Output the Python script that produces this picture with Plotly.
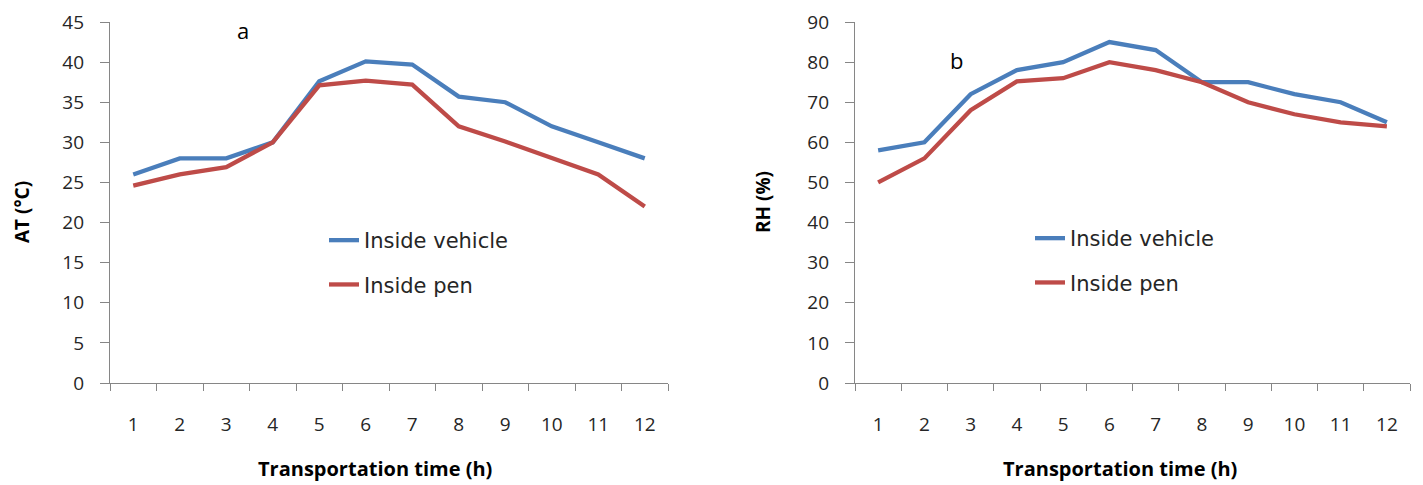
import plotly.graph_objects as go

hours = [str(h) for h in range(1, 13)]
at_vehicle = [26.0, 28.0, 28.0, 30.0, 37.6, 40.1, 39.7, 35.7, 35.0, 32.0, 30.0, 28.0]
at_pen = [24.6, 26.0, 26.9, 30.0, 37.1, 37.7, 37.2, 32.0, 30.1, 28.0, 26.0, 22.0]
rh_vehicle = [58, 60, 72, 78, 80, 85, 83, 75, 75, 72, 70, 65]
rh_pen = [50, 56, 68, 75.2, 76, 80, 78, 75, 70, 67, 65, 64]

BLUE = "#4A7EBB"
RED = "#BE4B48"
AXC = "#868686"
TXT = "#262626"
FONT = "Open Sans"
LFONT = "DejaVu Sans"

W, H = 1423, 485
PAGE_OFF = 8          # default body margin of the html page
TOP, BOT = 22, 383    # plot-area top / bottom in page pixels


def py(p):
    return (BOT - p) / (BOT - TOP)


def px(p):
    return (p - PAGE_OFF) / W


fig = go.Figure()
fig.add_trace(go.Scatter(x=hours, y=at_vehicle, mode="lines", name="Inside vehicle",
                         line=dict(color=BLUE, width=4.3), xaxis="x", yaxis="y",
                         legend="legend", legendgroup="a1"))
fig.add_trace(go.Scatter(x=hours, y=at_pen, mode="lines", name="Inside pen",
                         line=dict(color=RED, width=4.3), xaxis="x", yaxis="y",
                         legend="legend", legendgroup="a2"))
fig.add_trace(go.Scatter(x=hours, y=rh_vehicle, mode="lines", name="Inside vehicle",
                         line=dict(color=BLUE, width=4.3), xaxis="x2", yaxis="y2",
                         legend="legend2", legendgroup="b1"))
fig.add_trace(go.Scatter(x=hours, y=rh_pen, mode="lines", name="Inside pen",
                         line=dict(color=RED, width=4.3), xaxis="x2", yaxis="y2",
                         legend="legend2", legendgroup="b2"))

xa = dict(type="category", showline=True, linecolor=AXC, linewidth=1.3, ticks="outside",
          tickson="boundaries", ticklen=7, tickcolor=AXC, showgrid=False, zeroline=False,
          range=[-0.5, 11.5], automargin=False, ticklabeloverflow="allow",
          ticklabelstandoff=24, tickfont=dict(family=FONT, size=19, color=TXT))
ya = dict(showline=True, linecolor=AXC, linewidth=1.3, ticks="outside", ticklen=9,
          tickcolor=AXC, showgrid=False, zeroline=False, automargin=False,
          ticklabeloverflow="allow",
          ticklabelstandoff=12, tickfont=dict(family=FONT, size=19, color=TXT))


def ann(text, x, y, size, angle=0):
    return dict(text=text, x=px(x), y=py(y), xref="paper", yref="paper",
                xanchor="center", yanchor="middle",
                showarrow=False, textangle=angle,
                font=dict(family=FONT, size=size, color="black"))


fig.update_layout(
    width=W, height=H,
    margin=dict(l=0, r=0, t=TOP - PAGE_OFF, b=H - BOT + PAGE_OFF, autoexpand=False),
    paper_bgcolor="white", plot_bgcolor="white",
    showlegend=True,
    xaxis=dict(xa, domain=[px(110), px(668)], anchor="y"),
    yaxis=dict(ya, domain=[0, 1], range=[0, 45], dtick=5, anchor="x"),
    xaxis2=dict(xa, domain=[px(855), px(1410)], anchor="y2"),
    yaxis2=dict(ya, domain=[0, 1], range=[0, 90], dtick=10, anchor="x2"),
    legend=dict(x=px(324), y=py(220), xanchor="left", yanchor="top",
                xref="paper", yref="paper", tracegroupgap=14, traceorder="grouped",
                font=dict(family=LFONT, size=21, color=TXT), bgcolor="rgba(0,0,0,0)"),
    legend2=dict(x=px(1030), y=py(218), xanchor="left", yanchor="top",
                 xref="paper", yref="paper", tracegroupgap=14, traceorder="grouped",
                 font=dict(family=LFONT, size=21, color=TXT), bgcolor="rgba(0,0,0,0)"),
    annotations=[
        ann("a", 243, 30, 22),
        ann("b", 956, 60, 22),
        ann("<b>Transportation time (h)</b>", 375, 468, 20),
        ann("<b>Transportation time (h)</b>", 1120, 468, 20),
        ann("<b>AT (°C)</b>", 22, 212, 19, -90),
        ann("<b>RH (%)</b>", 763, 202, 19, -90),
    ],
)

fig.write_html("out.html")
